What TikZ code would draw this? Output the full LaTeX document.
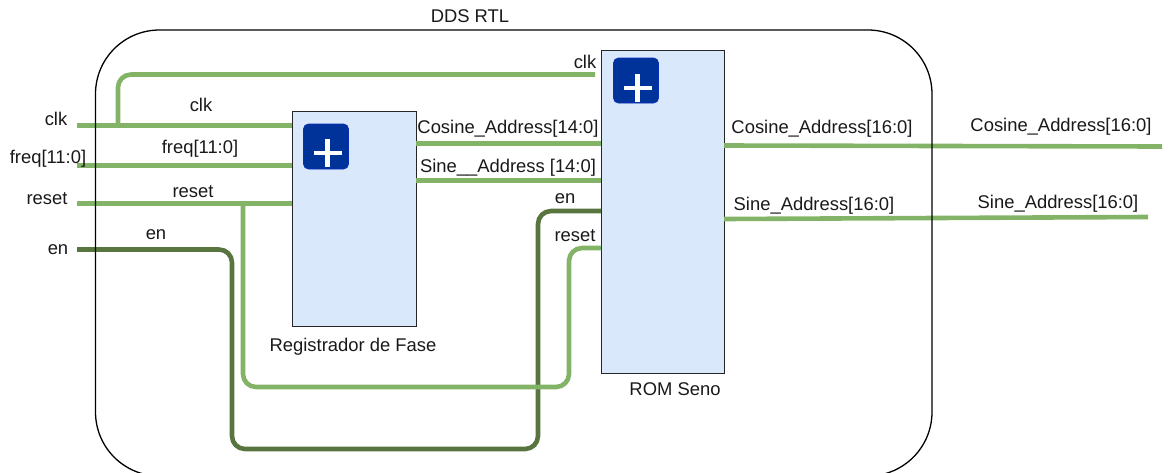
\documentclass[tikz,border=0pt]{standalone}
\usepackage{fontspec}
\setmainfont{Liberation Sans}
\begin{document}
\begin{tikzpicture}[x=1pt,y=-1pt,
  wire/.style={line width=4.6pt,color=wirelight,rounded corners=13pt},
  wiredark/.style={line width=4.6pt,color=wiredark,rounded corners=13pt},
  block/.style={draw=black!85,line width=1.4pt,fill=blockfill,minimum width=0pt,inner sep=0pt,anchor=north west},
  plusbox/.style={draw=plusedge,fill=plusfill,rounded corners=5pt,line width=0.8pt,minimum width=45pt,minimum height=45pt,inner sep=0pt},
  plusmark/.style={white,line width=4.4pt},
  lab/.style={font=\fontsize{18.4}{20}\selectfont,text=black!90,inner sep=0pt}]
\definecolor{wirelight}{HTML}{82B366}
\definecolor{wiredark}{HTML}{58753F}
\definecolor{blockfill}{HTML}{DAE8FC}
\definecolor{plusfill}{HTML}{003399}
\definecolor{plusedge}{HTML}{0A2FB8}
\useasboundingbox (0,0) rectangle (1168,472);
\clip (0,0) rectangle (1168,472);
\node[block,minimum width=124pt,minimum height=215pt] (reg) at (292,111) {};
\node[block,minimum width=123pt,minimum height=323pt] (rom) at (601,50) {};
\coordinate (clkin) at (77,125.5);
\coordinate (freqin) at (77,165.5);
\coordinate (resetin) at (77,203.5);
\coordinate (enin) at (77,249.5);
\coordinate (clkend) at (595,74.5);
\coordinate (coso) at (1162,146.5);
\coordinate (sino) at (1148,217);
\coordinate (clkreg) at (292,125.5);
\coordinate (freqreg) at (292,165.5);
\coordinate (resetreg) at (292,203.5);
\coordinate (cosa) at (416,143.5);
\coordinate (cosb) at (601,143.5);
\coordinate (sina) at (416,180.5);
\coordinate (sinb) at (601,180.5);
\coordinate (enrom) at (601,211);
\coordinate (resetrom) at (601,248);
\coordinate (cosr) at (724,145.5);
\coordinate (sinr) at (724,219);
\coordinate (clktap) at (118,125.5);
\coordinate (resettap) at (243,203.5);
\draw[wire] (clkin) -- (clkreg);
\draw[wire] (freqin) -- (freqreg);
\draw[wire] (resetin) -- (resetreg);
\draw[wire] (clktap) -- (118,74.5) -- (clkend);
\draw[wire] (cosa) -- (cosb);
\draw[wire] (sina) -- (sinb);
\draw[wiredark] (enin) -- (232,249.5) -- (232,449) -- (538,449) -- (538,211) -- (enrom);
\draw[wire] (resettap) -- (243,387) -- (569,387) -- (569,248) -- (resetrom);
\draw[wire] (cosr) -- (coso);
\draw[wire] (sinr) -- (sino);
\draw[black,line width=1.3pt,rounded corners=64pt] (95.5,30) rectangle (932,476);
\node[plusbox] (plusa) at (326,146.5) {};
\node[plusbox] (plusb) at (636,80.5) {};
\draw[plusmark] (327.5,139) -- (327.5,167) (313.5,153) -- (341.5,153);
\draw[plusmark] (637.5,74) -- (637.5,102) (623.5,88) -- (651.5,88);
\node[lab] (t0) at (470,16.5) {DDS RTL};
\node[lab] (t1) at (56,118.5) {clk};
\node[lab] (t2) at (48,158.5) {freq[11:0]};
\node[lab] (t3) at (47,198.5) {reset};
\node[lab] (t4) at (58,249.5) {en};
\node[lab] (t5) at (201,104.5) {clk};
\node[lab] (t6) at (200,148.5) {freq[11:0]};
\node[lab] (t7) at (193,191.5) {reset};
\node[lab] (t8) at (156,234.5) {en};
\node[lab] (t9) at (585,61.5) {clk};
\node[lab] (t10) at (508,128.5) {Cosine\_Address[14:0]};
\node[lab] (t11) at (508,167.5) {Sine\_\_Address [14:0]};
\node[lab] (t12) at (565,198.5) {en};
\node[lab] (t13) at (575,235.5) {reset};
\node[lab] (t14) at (822,129) {Cosine\_Address[16:0]};
\node[lab] (t15) at (814,206) {Sine\_Address[16:0]};
\node[lab] (t16) at (1061,127) {Cosine\_Address[16:0]};
\node[lab] (t17) at (1058,204) {Sine\_Address[16:0]};
\node[lab] (t18) at (353,346.5) {Registrador de Fase};
\node[lab] (t19) at (675,389.5) {ROM Seno};
\end{tikzpicture}
\end{document}
